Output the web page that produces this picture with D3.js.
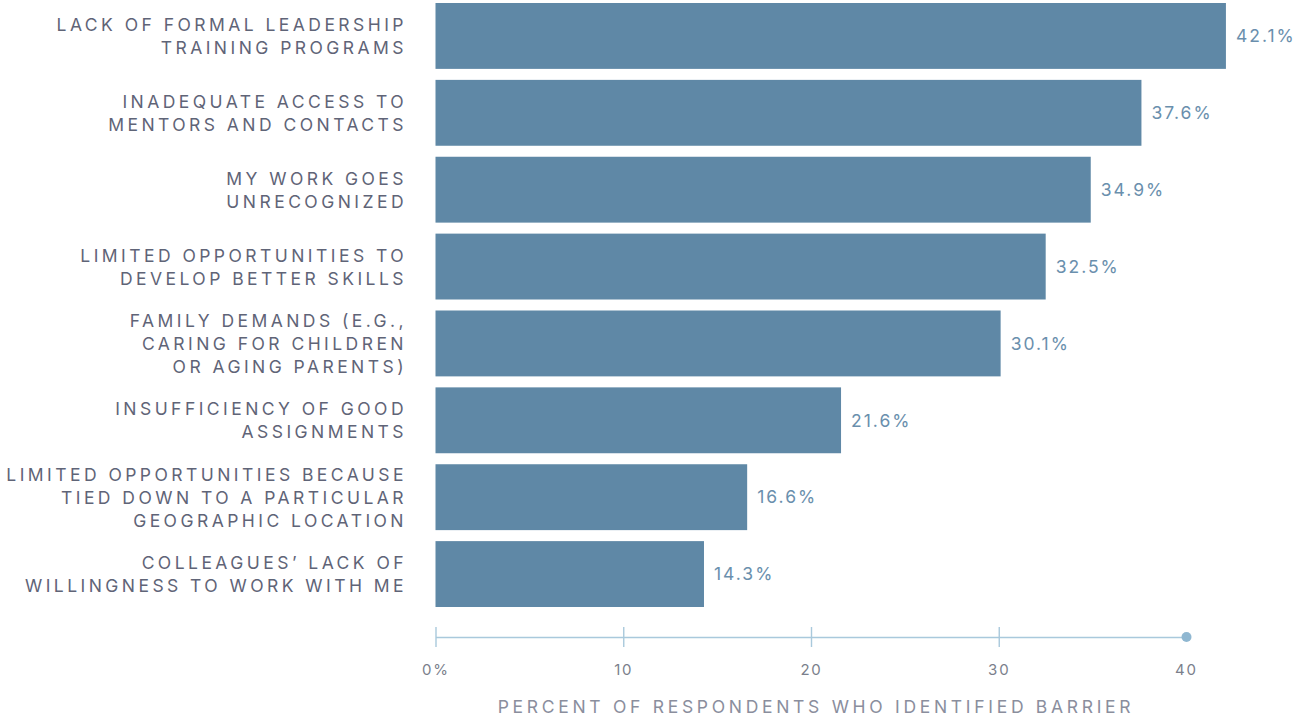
<!DOCTYPE html>
<html>
<head>
<meta charset="utf-8">
<script src="https://cdn.jsdelivr.net/npm/d3@7"></script>
<style>
  html, body { margin: 0; padding: 0; background: #ffffff; }
  svg { display: block; }
  text { font-family: Inter, "Open Sans", sans-serif; }
</style>
</head>
<body>
<svg id="chart" width="1297" height="716"></svg>
<script>
// Barriers to advancement, each label split into its display lines
const categories = [
  ["LACK OF FORMAL LEADERSHIP", "TRAINING PROGRAMS"],
  ["INADEQUATE ACCESS TO", "MENTORS AND CONTACTS"],
  ["MY WORK GOES", "UNRECOGNIZED"],
  ["LIMITED OPPORTUNITIES TO", "DEVELOP BETTER SKILLS"],
  ["FAMILY DEMANDS (E.G.,", "CARING FOR CHILDREN", "OR AGING PARENTS)"],
  ["INSUFFICIENCY OF GOOD", "ASSIGNMENTS"],
  ["LIMITED OPPORTUNITIES BECAUSE", "TIED DOWN TO A PARTICULAR", "GEOGRAPHIC LOCATION"],
  ["COLLEAGUES\u2019 LACK OF", "WILLINGNESS TO WORK WITH ME"]
];
// Percent of respondents naming each barrier
const values = [42.1, 37.6, 34.9, 32.5, 30.1, 21.6, 16.6, 14.3];
// Axis ticks and their labels
const tickValues = [0, 10, 20, 30];
const tickLabels = ["0%", "10", "20", "30"];
const axisEnd = 40;
const axisEndLabel = "40";
const axisTitle = "PERCENT OF RESPONDENTS WHO IDENTIFIED BARRIER";

const svg = d3.select("#chart");

const x = d3.scaleLinear().domain([0, axisEnd]).range([435.5, 1186.5]);
const y = d3.scaleBand()
  .domain(d3.range(values.length))
  .range([3, 607])
  .paddingInner(0.143)
  .paddingOuter(0);

// Bars
svg.append("g").selectAll("rect")
  .data(values)
  .join("rect")
  .attr("x", x(0))
  .attr("y", (d, i) => y(i))
  .attr("width", d => x(d) - x(0))
  .attr("height", y.bandwidth())
  .attr("fill", "#5f88a6");

// Value labels
svg.append("g").selectAll("text")
  .data(values)
  .join("text")
  .attr("x", d => x(d) + 10)
  .attr("y", (d, i) => y(i) + y.bandwidth() / 2)
  .attr("dy", "0.36em")
  .attr("font-size", 17.5)
  .attr("letter-spacing", 2.0)
  .attr("fill", "#6a8fad")
  .text(d => d.toFixed(1) + "%");

// Category labels, right-aligned and vertically centred on each bar
const lineH = 23;
const cat = svg.append("g").selectAll("text")
  .data(categories)
  .join("text")
  .attr("text-anchor", "end")
  .attr("font-size", 17.5)
  .attr("letter-spacing", 3.45)
  .attr("fill", "#5f6477");
cat.each(function(lines, i) {
  const cy = y(i) + y.bandwidth() / 2;
  const top = cy - (lines.length - 1) * lineH / 2;
  d3.select(this).selectAll("tspan")
    .data(lines)
    .join("tspan")
    .attr("x", 407)
    .attr("y", (d, j) => top + j * lineH)
    .attr("dy", "0.38em")
    .text(d => d);
});

// Bottom axis
const axisY = 637;
const axis = svg.append("g")
  .attr("transform", `translate(0,${axisY})`)
  .call(d3.axisBottom(x)
    .tickValues(tickValues)
    .tickFormat((d, i) => tickLabels[i])
    .tickSizeInner(0)
    .tickSizeOuter(0)
    .tickPadding(27));
axis.select(".domain").attr("stroke", "#a9c9dc").attr("stroke-width", 1.6);
axis.selectAll(".tick line")
  .attr("y1", -10).attr("y2", 10)
  .attr("stroke", "#a9c9dc").attr("stroke-width", 1.4);
axis.selectAll(".tick text")
  .attr("font-family", "Inter, 'Open Sans', sans-serif")
  .attr("font-size", 15)
  .attr("letter-spacing", 1.8)
  .attr("fill", "#7b7f8c");

// End marker of the axis with its label
axis.append("circle")
  .attr("cx", x(axisEnd))
  .attr("cy", 0)
  .attr("r", 5)
  .attr("fill", "#8fb7d1");
axis.append("text")
  .attr("x", x(axisEnd))
  .attr("y", 27)
  .attr("dy", "0.71em")
  .attr("text-anchor", "middle")
  .attr("font-size", 15)
  .attr("letter-spacing", 1.8)
  .attr("fill", "#7b7f8c")
  .text(axisEndLabel);

// Axis title
svg.append("text")
  .attr("x", 816)
  .attr("y", 713)
  .attr("text-anchor", "middle")
  .attr("font-size", 17.5)
  .attr("letter-spacing", 3.7)
  .attr("fill", "#8a8e9d")
  .text(axisTitle);
</script>
</body>
</html>
